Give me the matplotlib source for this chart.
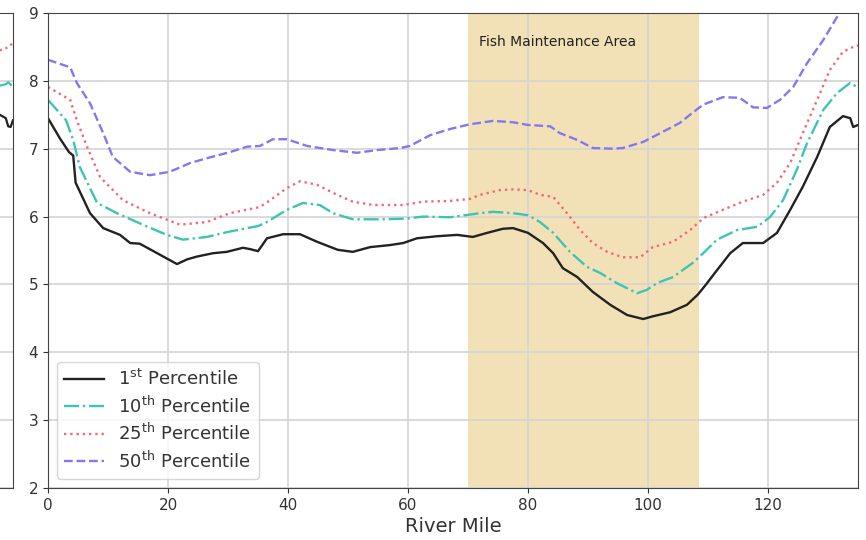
import matplotlib
matplotlib.use("Agg")
import matplotlib.pyplot as plt

# ---- data ----
p1_miles = [0, 2, 3.5, 4.2, 4.6, 7, 9.2, 12, 13.7, 15.3, 18.2, 21.5, 23.2, 24.8, 27.5, 29.8, 32.5, 33.7, 35,
            36.5, 39.2, 42, 44.8, 48.3, 50.8, 53.7, 57, 59.2, 61.5, 64.8, 68.2, 70.8, 73.2, 75.8, 77.5, 80,
            82.5, 84.2, 85.8, 88.2, 90.8, 93.7, 96.5, 99.2, 100.8, 103.7, 106.5, 108.3, 109.5, 111.5, 113.7,
            115.8, 119.2, 121.5, 123.7, 125.8, 128.2, 130.3, 132.5, 133.7, 134.2, 135]
p1_vals = [7.45, 7.15, 6.95, 6.9, 6.5, 6.05, 5.83, 5.73, 5.61, 5.6, 5.46, 5.3, 5.37, 5.41, 5.46, 5.48, 5.54, 5.52, 5.49,
           5.68, 5.74, 5.74, 5.63, 5.51, 5.48, 5.55, 5.58, 5.61, 5.68, 5.71, 5.73, 5.7, 5.76, 5.82, 5.83, 5.76,
           5.61, 5.46, 5.24, 5.11, 4.89, 4.7, 4.55, 4.49, 4.53, 4.59, 4.7, 4.85, 4.98, 5.21, 5.46,
           5.61, 5.61, 5.76, 6.1, 6.44, 6.88, 7.32, 7.48, 7.45, 7.32, 7.35]

p10_miles = [0, 3, 4.2, 5.3, 8.2, 11.5, 15.3, 19.8, 22.5, 26.5, 29.8, 33.2, 35, 36.5, 39.8, 42.5, 45.3, 47.5, 50.8,
             55.8, 59.8, 62.5, 67, 72, 74.2, 77.5, 80, 82, 84.2, 87, 89.8, 92, 94.8, 98.2, 99.8, 101.5, 104.2,
             107.5, 109.2, 111.5, 114.8, 118.2, 120.3, 122.5, 124.8, 126.5, 129.2, 131.5, 133.7, 135]
p10_vals = [7.72, 7.42, 7.13, 6.73, 6.2, 6.05, 5.9, 5.73, 5.66, 5.7, 5.77, 5.83, 5.86, 5.92, 6.1, 6.2, 6.17, 6.05, 5.96,
            5.96, 5.97, 6.0, 5.99, 6.05, 6.07, 6.05, 6.02, 5.92, 5.76, 5.48, 5.26, 5.17, 5.02, 4.87, 4.92, 5.02, 5.11,
            5.32, 5.46, 5.66, 5.8, 5.85, 5.99, 6.24, 6.69, 7.08, 7.57, 7.82, 7.97, 7.9]

p25_miles = [0, 3.7, 4.8, 6.5, 8.7, 12.5, 17, 22, 26.5, 30.3, 35.3, 37, 39.8, 42, 44.8, 48.2, 50.8, 54.2, 59.2,
             62.5, 67, 70.3, 72, 75.3, 77.5, 80, 82, 84.2, 86.5, 88.7, 90.8, 93.2, 95.8, 98.7, 100.8, 104.2, 107,
             109.3, 112.5, 115.8, 119.2, 121.5, 123.7, 125.8, 128.2, 130.3, 132.5, 134.2, 135]
p25_vals = [7.91, 7.72, 7.42, 7.03, 6.58, 6.24, 6.05, 5.88, 5.92, 6.05, 6.14, 6.24, 6.42, 6.52, 6.47, 6.32, 6.22, 6.17, 6.17,
            6.22, 6.23, 6.26, 6.32, 6.39, 6.4, 6.39, 6.32, 6.29, 6.05, 5.8, 5.61, 5.48, 5.4, 5.4, 5.55, 5.63, 5.8,
            5.98, 6.1, 6.22, 6.32, 6.5, 6.79, 7.23, 7.72, 8.16, 8.43, 8.5, 8.52]

p50_miles = [0, 3.7, 4.8, 7, 9.2, 10.8, 13.7, 17, 20.3, 23.7, 26.5, 30.3, 33.2, 35.3, 37.5, 39.8, 43.2, 47.5, 51.5,
             54.8, 58.7, 60.3, 63.7, 67, 70.3, 74.2, 77.5, 80, 83.7, 85.3, 88.2, 90.8, 94.2, 95.8, 99.2, 102.5,
             105.3, 107, 109.2, 112.5, 115.3, 117.5, 119.8, 122, 124.2, 126.5, 129.2, 131.5, 133.5]
p50_vals = [8.31, 8.2, 7.97, 7.67, 7.23, 6.88, 6.66, 6.61, 6.66, 6.79, 6.86, 6.95, 7.03, 7.04, 7.14, 7.14, 7.04, 6.98, 6.94,
            6.98, 7.01, 7.04, 7.2, 7.29, 7.36, 7.41, 7.39, 7.35, 7.33, 7.23, 7.13, 7.01, 7.0, 7.01, 7.1, 7.25,
            7.38, 7.5, 7.65, 7.76, 7.75, 7.61, 7.6, 7.72, 7.91, 8.26, 8.6, 8.94, 9.2]

# tail of the neighbouring panel visible at the far left edge
nb_miles = [132.8, 133.8, 134.2, 134.6, 135]
nb_p1 = [7.5, 7.45, 7.33, 7.32, 7.42]
nb_p10 = [7.93, 7.95, 7.98, 7.95, 7.88]
nb_p25 = [8.45, 8.48, 8.5, 8.53, 8.55]

labels = ["1$^{\\mathrm{st}}$ Percentile", "10$^{\\mathrm{th}}$ Percentile",
          "25$^{\\mathrm{th}}$ Percentile", "50$^{\\mathrm{th}}$ Percentile"]
fish_area = (70, 108.5)
xticks = [0, 20, 40, 60, 80, 100, 120]
yticks = [2, 3, 4, 5, 6, 7, 8, 9]

# ---- styles ----
c1, c10, c25, c50 = "#222222", "#3ec4b4", "#f06a78", "#8577f2"
spine_c = "#444444"
grid_c = "#d4d4d4"

fig = plt.figure(figsize=(8.66, 5.4), dpi=100)

# neighbour panel (partially visible)
axn = fig.add_axes([-0.03, 1 - 488 / 540, 0.045, (488 - 13) / 540])
axn.plot(nb_miles, nb_p1, color=c1, lw=1.6)
axn.plot(nb_miles, nb_p10, color=c10, lw=1.6, ls="-.")
axn.plot(nb_miles, nb_p25, color=c25, lw=1.6, ls=":")
axn.set_xlim(128.5, 135)
axn.set_ylim(2, 9)
axn.set_yticks(yticks)
axn.set_xticks([])
axn.set_yticklabels([])
axn.grid(True, color=grid_c, lw=1.2)
axn.set_axisbelow(True)
for s in axn.spines.values():
    s.set_color(spine_c)

ax = fig.add_axes([48 / 866, 1 - 488 / 540, (858 - 48) / 866, (488 - 13) / 540])
ax.axvspan(fish_area[0], fish_area[1], color="#f2e1b7", zorder=0.3, lw=0)
ax.text(71.8, 8.57, "Fish Maintenance Area", fontsize=10, color="#222222", va="center", ha="left")

ax.plot(p1_miles, p1_vals, color=c1, lw=1.7, label=labels[0])
ax.plot(p10_miles, p10_vals, color=c10, lw=1.7, ls="-.", label=labels[1])
ax.plot(p25_miles, p25_vals, color=c25, lw=1.7, ls=":", label=labels[2])
ax.plot(p50_miles, p50_vals, color=c50, lw=1.7, ls="--", label=labels[3])

ax.set_xlim(0, 135)
ax.set_ylim(2, 9)
ax.set_xticks(xticks)
ax.set_yticks(yticks)
ax.tick_params(labelsize=11, colors="#333333")
ax.grid(True, color=grid_c, lw=1.2)
ax.set_axisbelow(True)
for s in ax.spines.values():
    s.set_color(spine_c)
ax.set_xlabel("River Mile", fontsize=14, color="#333333", labelpad=3)

leg = ax.legend(loc="lower left", fontsize=13, handlelength=2.2, frameon=True,
                borderaxespad=0.5, labelspacing=0.35)
leg.get_frame().set_edgecolor("#cccccc")
for t in leg.get_texts():
    t.set_color("#333333")

fig.savefig("out.png", dpi=100)
